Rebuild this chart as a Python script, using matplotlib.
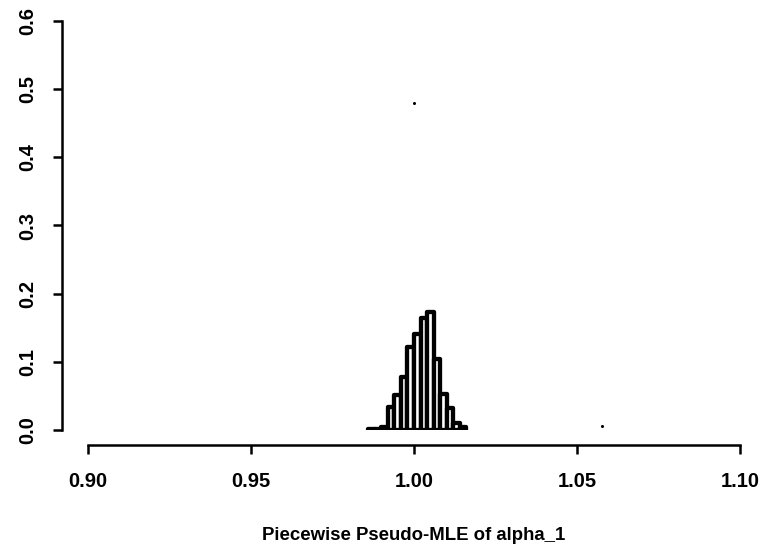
import matplotlib
matplotlib.use('Agg')
import matplotlib.pyplot as plt

# histogram of the estimates (relative frequency per bin of width 0.002)
bin_left = [0.986, 0.988, 0.990, 0.992, 0.994, 0.996, 0.998, 1.000, 1.002, 1.004,
            1.006, 1.008, 1.010, 1.012, 1.014]
freq = [0.001, 0.001, 0.004, 0.034, 0.051, 0.078, 0.122, 0.141, 0.164, 0.173,
        0.104, 0.053, 0.033, 0.010, 0.004]
bin_width = 0.002

# two stray specks in the scanned picture
speck_x = [1.000, 1.0576]
speck_y = [0.479, 0.006]

x_ticks = [0.90, 0.95, 1.00, 1.05, 1.10]
x_labels = ['0.90', '0.95', '1.00', '1.05', '1.10']
y_ticks = [0.0, 0.1, 0.2, 0.3, 0.4, 0.5, 0.6]
y_labels = ['0.0', '0.1', '0.2', '0.3', '0.4', '0.5', '0.6']

plt.rcParams['font.family'] = ['Liberation Sans', 'DejaVu Sans']
plt.rcParams['font.weight'] = 'bold'

fig = plt.figure(figsize=(7.73, 5.5), dpi=100)
ax = fig.add_axes([88 / 773, 120 / 550, 652 / 773, 409 / 550])

ax.bar(bin_left, freq, width=bin_width, align='edge', color='white',
       edgecolor='black', linewidth=3.1, joinstyle='round', capstyle='round')
ax.plot(speck_x, speck_y, 'o', color='black', markersize=2.2, markeredgewidth=0)

ax.set_xlim(0.90, 1.10)
ax.set_ylim(0.0, 0.6)

for side in ['top', 'right']:
    ax.spines[side].set_visible(False)
ax.spines['left'].set_position(('outward', 18.7))
ax.spines['bottom'].set_position(('outward', 10.8))
ax.spines['left'].set_linewidth(1.8)
ax.spines['bottom'].set_linewidth(1.8)

ax.set_xticks(x_ticks)
ax.set_xticklabels(x_labels, fontsize=14.5, fontweight='bold')
ax.set_yticks(y_ticks)
ax.set_yticklabels(y_labels, fontsize=14.5, fontweight='bold', rotation=90, va='center')
ax.tick_params(axis='both', direction='out', length=6.5, width=1.8)
ax.tick_params(axis='x', pad=13)
ax.tick_params(axis='y', pad=11.5)

ax.set_xlabel('Piecewise Pseudo-MLE of alpha_1', fontsize=13.4, fontweight='bold', labelpad=26)

fig.savefig('out.png', dpi=100)
